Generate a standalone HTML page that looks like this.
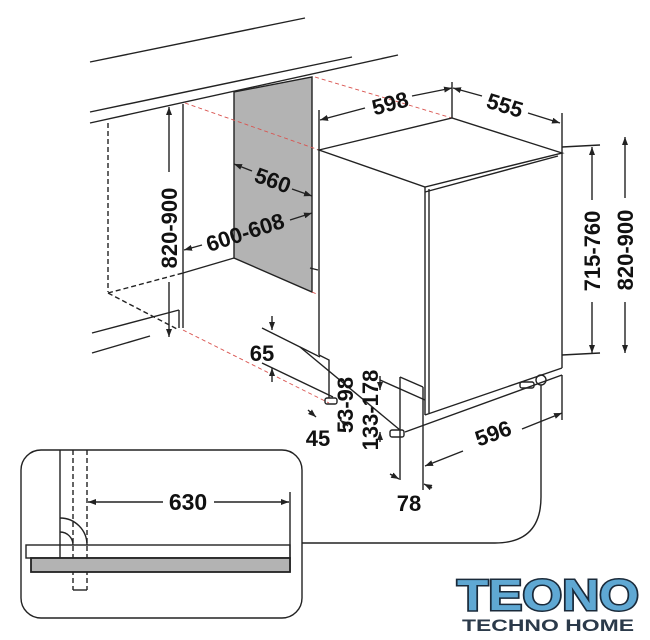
<!DOCTYPE html>
<html><head><meta charset="utf-8"><style>
html,body{margin:0;padding:0;background:#fff;}
svg{display:block;}
text{font-family:"Liberation Sans",sans-serif;font-weight:bold;fill:#111;}
</style></head><body>
<svg width="650" height="640" viewBox="0 0 650 640" xmlns="http://www.w3.org/2000/svg">
<defs>
<marker id="a" markerWidth="8" markerHeight="6" refX="8" refY="3" orient="auto" markerUnits="userSpaceOnUse"><path d="M0,0 L8,3 L0,6 z" fill="#222"/></marker>
</defs>
<g stroke="#222" stroke-width="1.4" fill="none">
<line x1="90" y1="62" x2="305" y2="18"/>
<line x1="90" y1="112" x2="352" y2="57"/>
<line x1="90" y1="123" x2="398" y2="55"/>
<line x1="108" y1="123" x2="108" y2="292" stroke-dasharray="5,3"/>
<line x1="183" y1="104" x2="183" y2="328"/>
<line x1="179" y1="310" x2="179" y2="328"/>
<line x1="108" y1="293" x2="183" y2="273" stroke-dasharray="5,3"/>
<line x1="108" y1="293" x2="179" y2="330" stroke-dasharray="5,3"/>
<line x1="183" y1="273" x2="234" y2="258"/>
<line x1="92" y1="333" x2="179" y2="310"/>
<line x1="92" y1="353" x2="150" y2="336"/>
<polygon points="234,92 312,77 312,292 234,258" fill="#b3b3b3" stroke="#222"/>
<line x1="310" y1="268" x2="318" y2="270"/>
<g stroke="#d9534f" stroke-width="0.9" stroke-dasharray="4,3">
<line x1="185" y1="103" x2="319" y2="150"/>
<line x1="315" y1="77" x2="452" y2="118"/>
<line x1="183" y1="330" x2="329" y2="403"/>
<line x1="312" y1="292" x2="319" y2="295"/>
</g>
<polygon points="319,150 452,118 562,153 425,187" fill="#fff"/>
<line x1="319" y1="150" x2="319" y2="355"/>
<polyline points="319,355 329,360 329,398"/>
<line x1="562" y1="153" x2="562" y2="368"/>
<line x1="425" y1="187" x2="425" y2="415"/>
<line x1="429" y1="189" x2="429" y2="413"/>
<line x1="425" y1="192" x2="558" y2="156"/>
<line x1="425" y1="415" x2="562" y2="368"/>
<polyline points="400,377 423,387"/>
<line x1="400" y1="377" x2="400" y2="480"/>
<line x1="423" y1="387" x2="423" y2="490"/>
<line x1="300" y1="347" x2="400" y2="430"/>
<line x1="405" y1="432" x2="562" y2="375"/>
<rect x="325" y="398" width="12" height="6" rx="2"/>
<rect x="390" y="430" width="14" height="7" rx="2"/>
<rect x="520" y="382" width="14" height="6" rx="2"/>
<circle cx="541" cy="380" r="5"/>
<line x1="452" y1="82" x2="452" y2="118"/>
<line x1="562" y1="113" x2="562" y2="153"/>
<line x1="319" y1="110" x2="319" y2="150"/>
<line x1="562" y1="147" x2="600" y2="145"/>
<line x1="562" y1="355" x2="600" y2="353"/>
<line x1="262" y1="328" x2="320" y2="357"/>
<line x1="262" y1="363" x2="333" y2="397"/>
<line x1="380" y1="380" x2="425" y2="400"/>
<line x1="562" y1="375" x2="562" y2="420"/>
<line x1="169" y1="172" x2="169" y2="107" marker-end="url(#a)"/>
<line x1="169" y1="282" x2="169" y2="337" marker-end="url(#a)"/>
<line x1="592" y1="200" x2="592" y2="147" marker-end="url(#a)"/>
<line x1="592" y1="302" x2="592" y2="353" marker-end="url(#a)"/>
<line x1="625" y1="198" x2="625" y2="137" marker-end="url(#a)"/>
<line x1="625" y1="302" x2="625" y2="353" marker-end="url(#a)"/>
<line x1="365" y1="108" x2="320" y2="120" marker-end="url(#a)"/>
<line x1="412" y1="96" x2="452" y2="88" marker-end="url(#a)"/>
<line x1="482" y1="96" x2="453" y2="88" marker-end="url(#a)"/>
<line x1="528" y1="113" x2="560" y2="123" marker-end="url(#a)"/>
<line x1="252" y1="171" x2="234" y2="164" marker-end="url(#a)"/>
<line x1="292" y1="189" x2="312" y2="196" marker-end="url(#a)"/>
<line x1="202" y1="245" x2="184" y2="250" marker-end="url(#a)"/>
<line x1="290" y1="220" x2="312" y2="213" marker-end="url(#a)"/>
<line x1="272" y1="316" x2="272" y2="330" marker-end="url(#a)"/>
<line x1="272" y1="382" x2="272" y2="368" marker-end="url(#a)"/>
<line x1="308" y1="410" x2="316" y2="417" marker-end="url(#a)"/>
<line x1="348" y1="426" x2="340" y2="420" marker-end="url(#a)"/>
<line x1="380" y1="376" x2="380" y2="390" marker-end="url(#a)"/>
<line x1="380" y1="442" x2="380" y2="432" marker-end="url(#a)"/>
<line x1="463" y1="451" x2="425" y2="466" marker-end="url(#a)"/>
<line x1="522" y1="429" x2="562" y2="413" marker-end="url(#a)"/>
<line x1="390" y1="474" x2="399" y2="479" marker-end="url(#a)"/>
<line x1="432" y1="488" x2="424" y2="484" marker-end="url(#a)"/>
<path d="M541,385 L541,497 Q541,543 495,543 L302,543"/>
<rect x="21" y="450" width="281" height="168" rx="20" fill="#fff"/>
<line x1="60" y1="450" x2="60" y2="558"/>
<line x1="73" y1="450" x2="73" y2="590" stroke-dasharray="5,3"/>
<line x1="87" y1="450" x2="87" y2="590" stroke-dasharray="5,3"/>
<line x1="73" y1="590" x2="87" y2="590"/>
<path d="M60,518 A27,27 0 0 1 87,545"/>
<path d="M60,532 A13,13 0 0 1 73,545"/>
<line x1="290" y1="492" x2="290" y2="572"/>
<line x1="163" y1="502" x2="88" y2="502" marker-end="url(#a)"/>
<line x1="214" y1="502" x2="289" y2="502" marker-end="url(#a)"/>
<rect x="26" y="545" width="264" height="13" fill="none"/>
<rect x="31" y="558" width="259" height="14" fill="#b3b3b3" stroke-width="1.8"/>
</g>
<text x="390" y="111" font-size="22" text-anchor="middle" transform="rotate(-15 390 103)">598</text>
<text x="505" y="113" font-size="22" text-anchor="middle" transform="rotate(17 505 105)">555</text>
<text x="273" y="188" font-size="22" text-anchor="middle" transform="rotate(20 273 180)">560</text>
<text x="245" y="240" font-size="22" text-anchor="middle" transform="rotate(-18 245 232)">600-608</text>
<text x="169" y="236" font-size="22" text-anchor="middle" transform="rotate(-90 169 228)">820-900</text>
<text x="592" y="259" font-size="22" text-anchor="middle" transform="rotate(-90 592 251)">715-760</text>
<text x="625" y="258" font-size="22" text-anchor="middle" transform="rotate(-90 625 250)">820-900</text>
<text x="262" y="361" font-size="22" text-anchor="middle">65</text>
<text x="318" y="446" font-size="22" text-anchor="middle">45</text>
<text x="345" y="413" font-size="22" text-anchor="middle" transform="rotate(-90 345 405)">53-98</text>
<text x="370" y="418" font-size="22" text-anchor="middle" transform="rotate(-90 370 410)">133-178</text>
<text x="493" y="441" font-size="22" text-anchor="middle" transform="rotate(-20 493 433)">596</text>
<text x="409" y="511" font-size="22" text-anchor="middle">78</text>
<text x="188" y="510" font-size="23" text-anchor="middle">630</text>
<text x="548" y="610" font-size="44" text-anchor="middle" style="fill:#5fa8d3;stroke:#1a2a3a;stroke-width:3;paint-order:stroke" textLength="182" lengthAdjust="spacingAndGlyphs">TEONO</text>
<text x="548" y="631" font-size="17" text-anchor="middle" style="fill:#2b3a4a" textLength="172" lengthAdjust="spacingAndGlyphs">TECHNO HOME</text>
</svg>
</body></html>
